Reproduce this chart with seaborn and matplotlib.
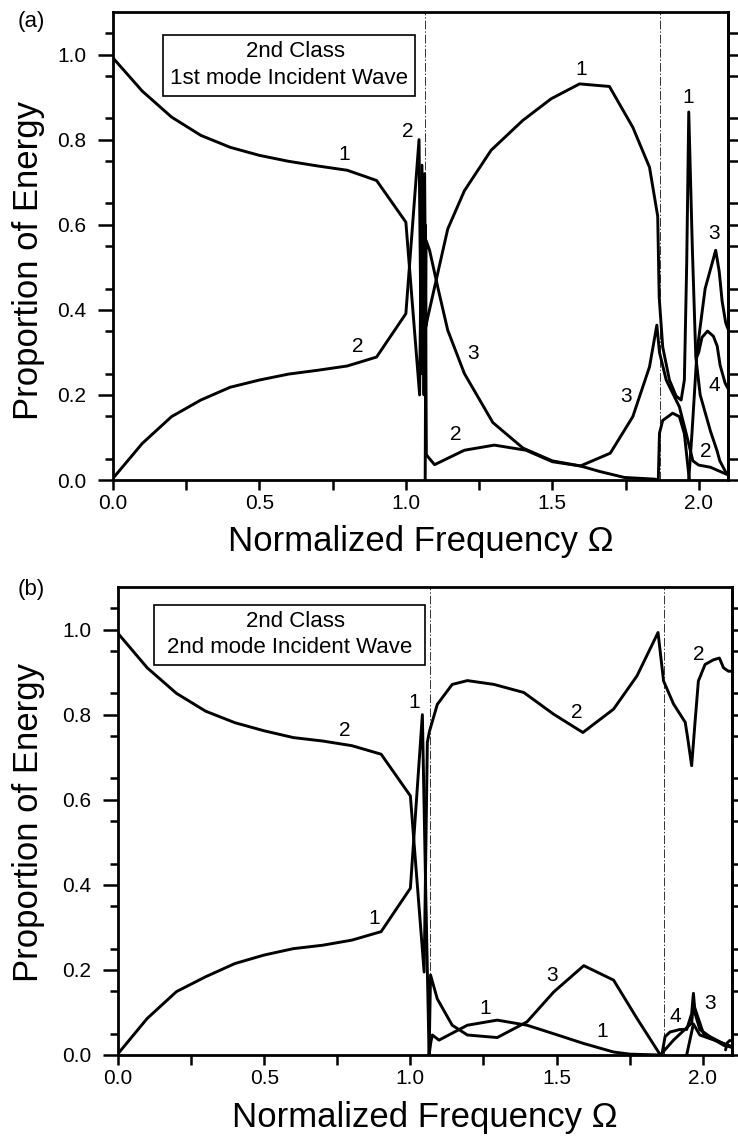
import numpy as np
import pandas as pd
import matplotlib
matplotlib.use("Agg")
import matplotlib.pyplot as plt
from matplotlib.patches import Rectangle
import seaborn as sns

sns.set_style("ticks")
plt.rcParams['font.family'] = ['Liberation Sans', 'DejaVu Sans']
for k in ["text.color", "axes.labelcolor", "xtick.color", "ytick.color", "axes.edgecolor"]:
    plt.rcParams[k] = "black"

# ---------------- data: panel (a) ----------------
x_low = [0.0, 0.1, 0.2, 0.3, 0.4, 0.5, 0.6, 0.7, 0.8, 0.9, 1.0]

a1_x = x_low + [1.047, 1.055, 1.060, 1.064, 1.068, 1.075, 1.143, 1.2, 1.291, 1.399,
                1.496, 1.593, 1.695, 1.775, 1.832, 1.849, 1.860, 1.865, 1.877, 1.900,
                1.923, 1.940, 1.951, 1.959, 1.966, 1.978, 1.990, 2.005, 2.040, 2.062,
                2.072, 2.095]
a1_y = [0.992, 0.914, 0.853, 0.810, 0.782, 0.763, 0.749, 0.738, 0.728, 0.704, 0.606,
        0.20, 0.74, 0.30, 0.72, 0.36, 0.383, 0.59, 0.68, 0.775, 0.845,
        0.896, 0.931, 0.925, 0.829, 0.735, 0.665, 0.62, 0.43, 0.313, 0.235,
        0.197, 0.188, 0.235, 0.509, 0.865, 0.55, 0.29, 0.20, 0.115, 0.07,
        0.045, 0.015]

a2_x = x_low + [1.045, 1.053, 1.058, 1.062, 1.066, 1.070, 1.075, 1.098, 1.2, 1.302,
                1.41, 1.5, 1.596, 1.662, 1.746, 1.85, 1.862, 1.866, 1.877, 1.911,
                1.934, 1.951, 1.962, 1.968]
a2_y = [0.004, 0.086, 0.149, 0.188, 0.218, 0.235, 0.249, 0.258, 0.268, 0.289, 0.391,
        0.80, 0.25, 0.70, 0.20, 0.60, 0.06, 0.055, 0.036, 0.07, 0.082,
        0.07, 0.043, 0.033, 0.02, 0.006, 0.002, 0.0, 0.11, 0.14, 0.157,
        0.149, 0.109, 0.038, 0.0]

a3_x = [1.066, 1.069, 1.081, 1.11, 1.143, 1.2, 1.297, 1.4, 1.5, 1.596, 1.698, 1.775,
        1.832, 1.857, 1.866, 1.889, 1.934, 1.957, 1.98, 2.0, 2.04, 2.09, 2.1]
a3_y = [0.0, 0.563, 0.54, 0.45, 0.352, 0.25, 0.135, 0.075, 0.045, 0.033, 0.063, 0.149,
        0.266, 0.364, 0.30, 0.235, 0.172, 0.11, 0.045, 0.035, 0.03, 0.015, 0.012]

a4_x = [1.966, 1.977, 1.994, 2.005, 2.022, 2.058, 2.07, 2.08, 2.092, 2.1]
a4_y = [0.0, 0.11, 0.30, 0.36, 0.45, 0.54, 0.49, 0.42, 0.37, 0.355]

a5_x = [1.994, 2.0, 2.011, 2.03, 2.05, 2.063, 2.073, 2.09, 2.1]
a5_y = [0.29, 0.30, 0.335, 0.35, 0.338, 0.315, 0.27, 0.228, 0.215]

a_labels = ["1", "2", "2", "1", "1", "3", "2", "3", "3", "4", "2"]
a_lab_x = [0.791, 0.836, 1.007, 1.599, 1.964, 1.229, 1.172, 1.752, 2.054, 2.054, 2.025]
a_lab_y = [0.765, 0.313, 0.818, 0.966, 0.90, 0.297, 0.106, 0.196, 0.579, 0.223, 0.066]

# ---------------- data: panel (b) ----------------
b2_x = x_low + [1.047, 1.058, 1.065, 1.092, 1.143, 1.195, 1.286, 1.388, 1.49, 1.59,
                1.695, 1.775, 1.847, 1.866, 1.9, 1.94, 1.948, 1.962, 1.974, 1.985,
                2.008, 2.037, 2.057, 2.071, 2.088, 2.1]
b2_y = [0.991, 0.91, 0.85, 0.808, 0.781, 0.762, 0.746, 0.738, 0.727, 0.707, 0.609,
        0.195, 0.735, 0.76, 0.824, 0.871, 0.88, 0.871, 0.852, 0.801, 0.758,
        0.813, 0.891, 0.993, 0.879, 0.825, 0.782, 0.747, 0.68, 0.786, 0.879,
        0.918, 0.929, 0.933, 0.91, 0.902, 0.902]

b1_x = x_low + [1.041, 1.052, 1.064, 1.070, 1.075, 1.098, 1.195, 1.297, 1.399, 1.49,
                1.593, 1.695, 1.752, 1.855, 1.90, 1.962, 1.968, 2.002, 2.071, 2.1]
b1_y = [0.003, 0.086, 0.149, 0.184, 0.215, 0.235, 0.25, 0.258, 0.27, 0.29, 0.392,
        0.80, 0.40, 0.0, 0.03, 0.047, 0.035, 0.07, 0.082, 0.07, 0.05,
        0.027, 0.007, 0.002, 0.0, 0.035, 0.075, 0.12, 0.051, 0.023, 0.018]

b3_x = [1.064, 1.069, 1.092, 1.143, 1.195, 1.297, 1.399, 1.49, 1.593, 1.695, 1.775, 1.855]
b3_y = [0.0, 0.188, 0.132, 0.07, 0.047, 0.041, 0.078, 0.148, 0.21, 0.176, 0.086, 0.0]

b3r_x = [1.945, 1.968, 1.99, 2.059, 2.1]
b3r_y = [0.0, 0.073, 0.047, 0.03, 0.02]

b4_x = [1.86, 1.871, 1.888, 1.922, 1.945, 1.962, 1.968, 1.974, 1.99, 2.025, 2.059, 2.082, 2.1]
b4_y = [0.0, 0.043, 0.054, 0.06, 0.06, 0.097, 0.145, 0.097, 0.06, 0.043, 0.031, 0.023, 0.018]

b5_x = [2.078, 2.083, 2.092, 2.1]
b5_y = [0.012, 0.028, 0.034, 0.033]

b_labels = ["2", "1", "1", "2", "3", "1", "1", "2", "4", "3"]
b_lab_x = [0.774, 0.876, 1.013, 1.57, 1.485, 1.257, 1.655, 1.985, 1.905, 2.025]
b_lab_y = [0.762, 0.32, 0.828, 0.805, 0.188, 0.11, 0.055, 0.942, 0.09, 0.121]

cutoffs = [1.067, 1.868]
x_ticks = [0.0, 0.5, 1.0, 1.5, 2.0]
y_ticks = [0.0, 0.2, 0.4, 0.6, 0.8, 1.0]

# ---------------- figure ----------------
W, H = 738, 1144
fig = plt.figure(figsize=(W / 100, H / 100), dpi=100)

def px_axes(l, r, t, b):
    return fig.add_axes([l / W, 1 - b / H, (r - l) / W, (b - t) / H])

ax_a = px_axes(113, 728, 12, 480)
ax_b = px_axes(118, 732, 587, 1055)

LW = 2.1

def draw_panel(ax, curves, labels, lx, ly, box, title_lines, tag, tagpos):
    for cx, cy in curves:
        df = pd.DataFrame({"x": cx, "y": cy})
        sns.lineplot(data=df, x="x", y="y", ax=ax, color="black", lw=LW,
                     sort=False, estimator=None, legend=False)
    for c in cutoffs:
        ax.axvline(c, color="#333333", lw=0.7, ls=(0, (9, 2, 1.5, 2)), zorder=1)
    for s, x, y in zip(labels, lx, ly):
        ax.text(x, y, s, fontsize=15, ha="center", va="center", color="black")
    ax.set_xlim(0, 2.1)
    ax.set_ylim(0, 1.1)
    ax.set_xticks(x_ticks)
    ax.set_xticks([0.25, 0.75, 1.25, 1.75], minor=True)
    ax.set_yticks(y_ticks)
    ax.set_yticks(np.arange(0.05, 1.1, 0.1), minor=True)
    ax.set_xticklabels([f"{v:.1f}" for v in x_ticks])
    ax.set_yticklabels([f"{v:.1f}" for v in y_ticks])
    ax.tick_params(axis="x", which="major", direction="out", length=7, width=1.8,
                   labelsize=15, pad=3)
    ax.tick_params(axis="x", which="minor", direction="out", length=7, width=1.8)
    ax.tick_params(axis="y", which="major", direction="out", length=11, width=1.8,
                   labelsize=15, pad=8)
    ax.tick_params(axis="y", which="minor", direction="out", length=6, width=1.8)
    for sp in ax.spines.values():
        sp.set_visible(True)
        sp.set_linewidth(2.0)
    sec = ax.secondary_yaxis("right")
    sec.set_yticks(y_ticks)
    sec.set_yticks(np.arange(0.05, 1.1, 0.1), minor=True)
    sec.tick_params(which="both", direction="out", length=7, width=1.8, labelright=False)
    sec.spines["right"].set_linewidth(2.0)
    ax.set_xlabel("")
    ax.set_ylabel("")
    x0, x1, y0, y1 = box
    ax.add_patch(Rectangle((x0, y0), x1 - x0, y1 - y0, transform=ax.transAxes,
                           facecolor="white", edgecolor="black", lw=1.2, zorder=5))
    cx = (x0 + x1) / 2
    ax.text(cx + 0.01, y0 + (y1 - y0) * 0.73, title_lines[0], transform=ax.transAxes,
            fontsize=16, ha="center", va="center", zorder=6)
    ax.text(cx, y0 + (y1 - y0) * 0.29, title_lines[1], transform=ax.transAxes,
            fontsize=16, ha="center", va="center", zorder=6)
    fig.text(tagpos[0] / W, 1 - tagpos[1] / H, tag, fontsize=16, ha="center", va="center")

draw_panel(ax_a,
           [(a1_x, a1_y), (a2_x, a2_y), (a3_x, a3_y), (a4_x, a4_y), (a5_x, a5_y)],
           a_labels, a_lab_x, a_lab_y,
           (0.081, 0.491, 0.821, 0.951),
           ["2nd Class", "1st mode Incident Wave"], "(a)", (31, 22))

draw_panel(ax_b,
           [(b2_x, b2_y), (b1_x, b1_y), (b3_x, b3_y), (b3r_x, b3r_y), (b4_x, b4_y),
            (b5_x, b5_y)],
           b_labels, b_lab_x, b_lab_y,
           (0.059, 0.50, 0.833, 0.962),
           ["2nd Class", "2nd mode Incident Wave"], "(b)", (31, 590))

# axis titles
fig.text(29 / W, 1 - 260 / H, "Proportion of Energy", rotation=90, fontsize=25,
         ha="center", va="center")
fig.text(29 / W, 1 - 822 / H, "Proportion of Energy", rotation=90, fontsize=25,
         ha="center", va="center")
fig.text(421 / W, 1 - 541 / H, "Normalized Frequency Ω", fontsize=25,
         ha="center", va="center")
fig.text(425 / W, 1 - 1117 / H, "Normalized Frequency Ω", fontsize=25,
         ha="center", va="center")

fig.savefig("out.png", dpi=100)
